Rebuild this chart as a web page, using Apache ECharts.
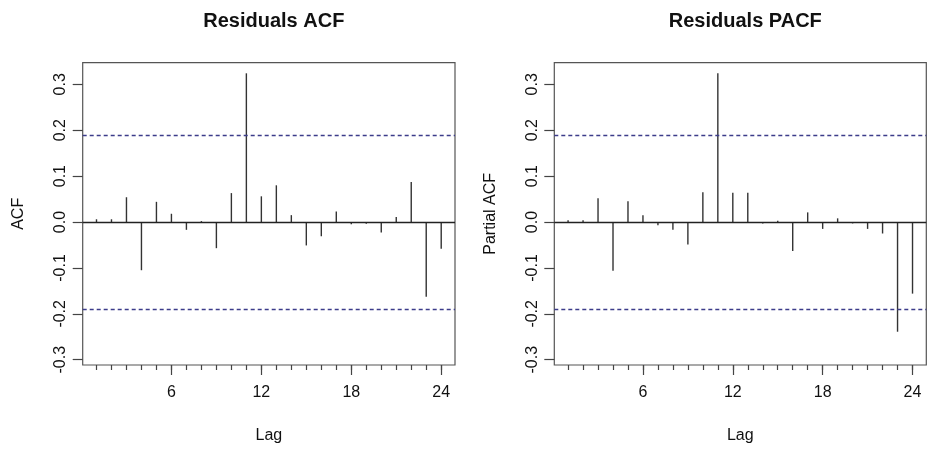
<!DOCTYPE html>
<html>
<head>
<meta charset="utf-8">
<script src="https://cdn.jsdelivr.net/npm/echarts@6/dist/echarts.min.js"></script>
<style>
html,body{margin:0;padding:0;background:#fff;}
#chart{width:935px;height:449px;}
</style>
</head>
<body>
<div id="chart"></div>
<script>
const lags = [1,2,3,4,5,6,7,8,9,10,11,12,13,14,15,16,17,18,19,20,21,22,23,24];
const acfValues = [0.006,0.006,0.054,-0.105,0.044,0.018,-0.017,0.002,-0.057,0.063,0.324,0.056,0.080,0.015,-0.051,-0.031,0.023,-0.005,-0.004,-0.023,0.011,0.087,-0.163,-0.058];
const pacfValues = [0.004,0.004,0.052,-0.106,0.045,0.015,-0.007,-0.017,-0.049,0.065,0.324,0.064,0.064,-0.003,0.003,-0.063,0.021,-0.015,0.008,-0.003,-0.015,-0.025,-0.239,-0.156];
const ciBound = 0.189;
const xTickLabels = [6,12,18,24];
const yTickValues = [-0.3,-0.2,-0.1,0.0,0.1,0.2,0.3];
const titles = ['Residuals ACF','Residuals PACF'];
const yNames = ['ACF','Partial ACF'];

const FONT = 'Liberation Sans, Arial, sans-serif';
const chart = echarts.init(document.getElementById('chart'));

const grids = [
  {left:82.7, right:480, top:62.7, bottom:84},
  {left:554.3, right:8.7, top:62.7, bottom:84}
];

const xAxes = [], yAxes = [], series = [];
grids.forEach((g, i) => {
  xAxes.push({
    type:'value', gridIndex:i, min:0.08, max:24.92, position:'bottom',
    name:'Lag', nameLocation:'middle', nameGap:63,
    nameTextStyle:{fontFamily:FONT, fontSize:16, color:'#111'},
    axisLine:{show:false, onZero:false}, splitLine:{show:false},
    axisTick:{show:true, customValues:xTickLabels, length:10, lineStyle:{color:'#444', width:1.2}},
    axisLabel:{show:true, customValues:xTickLabels, margin:20, fontFamily:FONT, fontSize:16, color:'#111'}
  });
  xAxes.push({
    type:'value', gridIndex:i, min:0.08, max:24.92, position:'bottom',
    axisLine:{show:false, onZero:false}, splitLine:{show:false},
    axisTick:{show:true, customValues:lags, length:5, lineStyle:{color:'#444', width:1.2}},
    axisLabel:{show:false}
  });
  yAxes.push({
    type:'value', gridIndex:i, min:-0.3115, max:0.3471,
    name:yNames[i], nameLocation:'middle', nameGap:56, nameRotate:90,
    nameTextStyle:{fontFamily:FONT, fontSize:16, color:'#111'},
    axisLine:{show:false, onZero:false}, splitLine:{show:false},
    axisTick:{show:true, customValues:yTickValues, length:10, lineStyle:{color:'#444', width:1.2}},
    axisLabel:{show:true, customValues:yTickValues, rotate:90, margin:14,
      fontFamily:FONT, fontSize:16, color:'#111',
      formatter:v => Number(v).toFixed(1)}
  });
  const vals = i === 0 ? acfValues : pacfValues;
  series.push({
    type:'bar', xAxisIndex:i*2, yAxisIndex:i,
    data: lags.map((l, k) => [l, vals[k]]),
    barWidth:1.4, itemStyle:{color:'#333'}, silent:true,
    markLine:{
      silent:true, symbol:'none', label:{show:false},
      data:[
        {yAxis:0, lineStyle:{type:'solid', color:'#222', width:1.4}},
        {yAxis:ciBound, lineStyle:{type:[4,3], color:'#3c3c8a', width:1.4}},
        {yAxis:-ciBound, lineStyle:{type:[4,3], color:'#3c3c8a', width:1.4}}
      ]
    }
  });
});

chart.setOption({
  animation:false,
  backgroundColor:'#fff',
  title: titles.map((t, i) => ({
    text:t, left: i === 0 ? 268.8 : 740.3, top:6, textAlign:'center',
    textStyle:{fontFamily:FONT, fontSize:20, fontWeight:'bold', color:'#111'}
  })),
  grid: grids.map(g => Object.assign({show:true, borderColor:'#555', borderWidth:1.2, backgroundColor:'transparent'}, g)),
  xAxis: xAxes,
  yAxis: yAxes,
  series: series
});
</script>
</body>
</html>
